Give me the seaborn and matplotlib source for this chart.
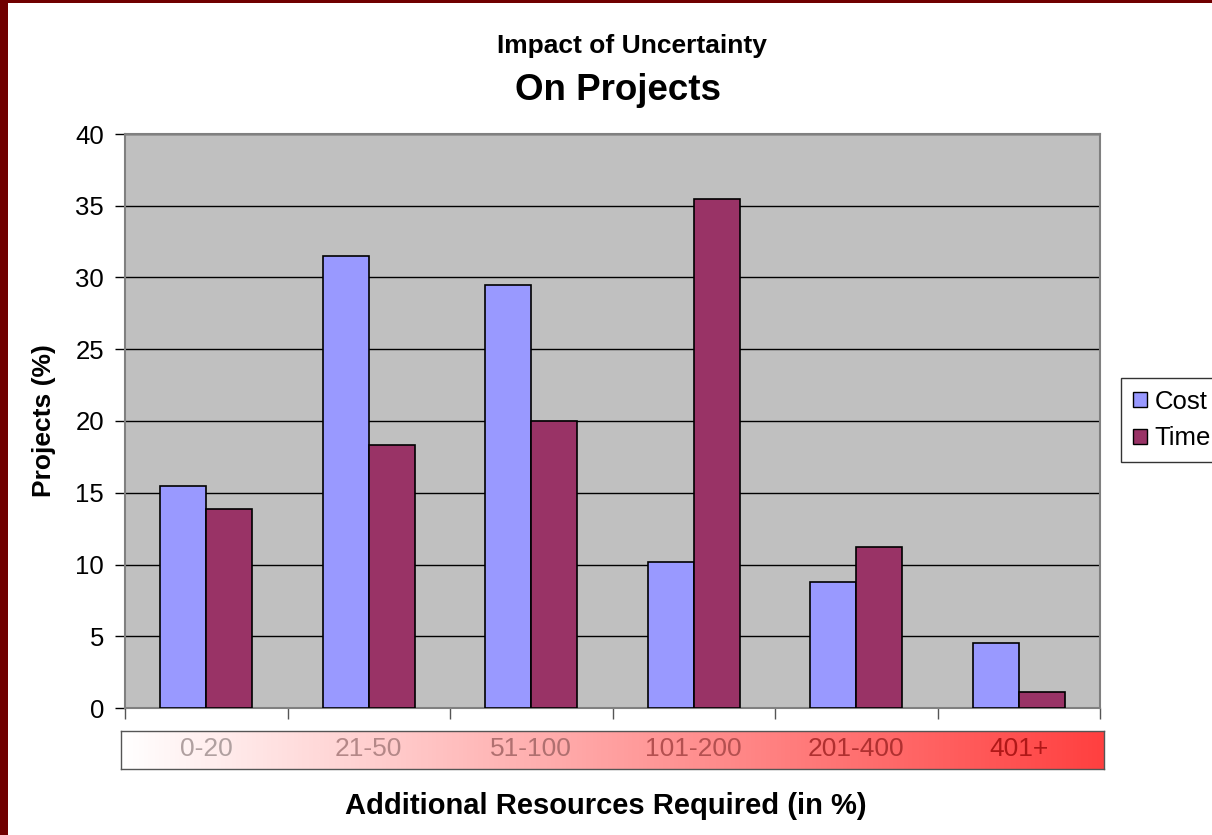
import numpy as np
import pandas as pd
import matplotlib
matplotlib.use("Agg")
import matplotlib.pyplot as plt
import seaborn as sns
from matplotlib.colors import LinearSegmentedColormap
from matplotlib.patches import Rectangle, Patch

ranges = ["0-20", "21-50", "51-100", "101-200", "201-400", "401+"]
cost = [15.5, 31.5, 29.5, 10.2, 8.8, 4.5]
time = [13.9, 18.3, 20.0, 35.5, 11.2, 1.1]
label_colors = ["#b0a0a0", "#b48888", "#b07070", "#b45050", "#b03030", "#b01818"]

df = pd.DataFrame({
    "range": ranges * 2,
    "value": cost + time,
    "series": ["Cost"] * len(ranges) + ["Time"] * len(ranges),
})

sns.set_style("white")
plt.rcParams["font.family"] = ["Liberation Sans", "DejaVu Sans"]
plt.rcParams["text.color"] = "black"
plt.rcParams["axes.labelcolor"] = "black"
plt.rcParams["xtick.color"] = "black"
plt.rcParams["ytick.color"] = "black"

fig = plt.figure(figsize=(12.12, 8.35), dpi=100, facecolor="white")

# slide background strips (left + top)
fig.patches.append(Rectangle((0, 0), 8 / 1212, 1, transform=fig.transFigure,
                             facecolor="#700000", edgecolor="none", zorder=0))
fig.patches.append(Rectangle((0, 1 - 3 / 835), 1, 3 / 835, transform=fig.transFigure,
                             facecolor="#700000", edgecolor="none", zorder=0))

ax = fig.add_axes([125 / 1212, 1 - 708 / 835, 975 / 1212, 574 / 835])
ax.set_facecolor("#c0c0c0")
sns.barplot(data=df, x="range", y="value", hue="series",
            palette=["#9999ff", "#993366"], width=0.566,
            edgecolor="black", linewidth=1.2, saturation=1, ax=ax, zorder=3)
ax.legend_.remove()

ax.set_ylim(0, 40)
ax.set_xlim(-0.5, 5.5)
ax.set_yticks(range(0, 41, 5))
ax.yaxis.grid(True, color="black", linewidth=1, zorder=1)
ax.set_axisbelow(True)
ax.set_xticks(np.arange(-0.5, 6, 1))
ax.set_xticklabels([])
ax.tick_params(axis="y", direction="out", length=7, width=1, color="black",
               labelsize=18.5, pad=8, left=True)
ax.tick_params(axis="x", direction="out", length=8, width=1, color="#555555",
               bottom=True)
for s in ax.spines.values():
    s.set_color("#808080")
    s.set_linewidth(1.5)
ax.set_xlabel("")
ax.set_ylabel("Projects (%)", fontsize=19, fontweight="bold", labelpad=14)

# gradient category band, aligned with the bar groups
gax = fig.add_axes([121 / 1212, 1 - 769 / 835, 983 / 1212, 38 / 835])
lo = -0.5 - 4 / 162.5
hi = 5.5 + 4 / 162.5
cmap = LinearSegmentedColormap.from_list("band", ["#ffffff", "#ffa0a0", "#ff4040"])
grad = np.linspace(0, 1, 512).reshape(1, -1)
gax.imshow(grad, aspect="auto", cmap=cmap, extent=[lo, hi, 0, 1])
gax.set_xlim(lo, hi)
gax.set_ylim(0, 1)
gax.set_xticks([])
gax.set_yticks([])
for s in gax.spines.values():
    s.set_color("#555555")
    s.set_linewidth(1)
for i, r in enumerate(ranges):
    gax.text(i, 0.52, r, ha="center", va="center", fontsize=19,
             color=label_colors[i])

fig.text(0.5, 1 - 806 / 835, "Additional Resources Required (in %)",
         ha="center", va="center", fontsize=21, fontweight="bold")
fig.text(632 / 1212, 1 - 46 / 835, "Impact of Uncertainty",
         ha="center", va="center", fontsize=19, fontweight="bold")
fig.text(618 / 1212, 1 - 91 / 835, "On Projects",
         ha="center", va="center", fontsize=26.5, fontweight="bold")

handles = [Patch(facecolor="#9999ff", edgecolor="black", linewidth=1),
           Patch(facecolor="#993366", edgecolor="black", linewidth=1)]
leg = fig.legend(handles, ["Cost", "Time"], loc="upper left",
                 bbox_to_anchor=(1121 / 1212, 1 - 378 / 835),
                 fontsize=18.5, frameon=True, fancybox=False,
                 handlelength=0.55, handleheight=0.55, handletextpad=0.3,
                 borderpad=0.45, labelspacing=0.5, borderaxespad=0)
leg.get_frame().set_edgecolor("black")
leg.get_frame().set_linewidth(1)

fig.savefig("out.png", dpi=100, facecolor="white")
